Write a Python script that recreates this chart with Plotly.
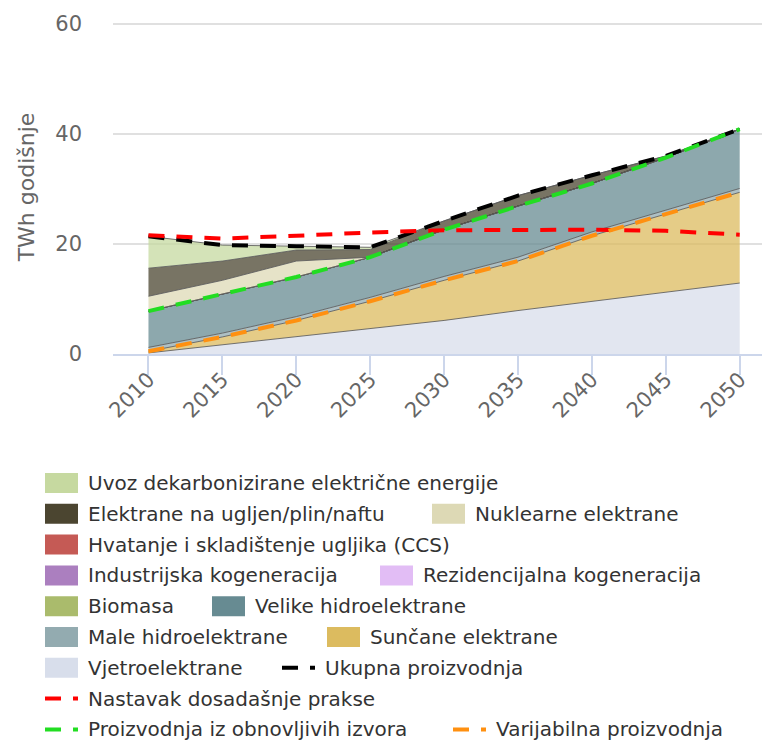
import plotly.graph_objects as go

# ---------------- data ----------------
years = [2010, 2015, 2020, 2025, 2030, 2035, 2040, 2045, 2050]
year_labels = [str(y) for y in years]

# stacked areas (TWh)
uvoz = [5.8, 2.9, 0.7, 0.4, 0.0, 0.0, 0.0, 0.0, 0.0]
elektrane = [5.1, 3.5, 2.0, 1.4, 1.6, 1.9, 1.5, 0.3, 0.0]
nuklearne = [2.7, 2.5, 2.9, 0.0, 0.0, 0.0, 0.0, 0.0, 0.0]
ccs = [0, 0, 0, 0, 0, 0, 0, 0, 0]
industrijska = [0, 0, 0, 0, 0, 0, 0, 0, 0]
rezidencijalna = [0, 0, 0, 0, 0, 0, 0, 0, 0]
biomasa = [0, 0, 0, 0, 0, 0, 0, 0, 0]
velike_hidro = [6.6, 7.1, 7.2, 7.3, 8.5, 9.3, 8.8, 9.5, 10.8]
male_hidro = [0.7, 0.7, 0.7, 0.7, 0.7, 0.7, 0.7, 0.7, 0.7]
suncane = [0.3, 1.4, 2.9, 5.0, 7.3, 9.0, 11.9, 14.2, 16.5]
vjetro = [0.2, 1.7, 3.2, 4.6, 6.1, 7.9, 9.6, 11.3, 12.9]

# lines (TWh)
ukupna = [21.4, 19.8, 19.6, 19.4, 24.2, 28.8, 32.5, 36.0, 40.9]
nastavak = [21.6, 21.0, 21.5, 22.1, 22.5, 22.6, 22.6, 22.4, 21.7]
obnovljivi = [7.8, 10.9, 14.0, 17.6, 22.6, 26.9, 31.0, 35.7, 40.9]
varijabilna = [0.5, 3.1, 6.1, 9.6, 13.4, 16.9, 21.5, 25.5, 29.4]

y_ticks = [0, 20, 40, 60]

# ---------------- styling ----------------
OFF = 8  # default page margin of the html body
W, H = 770 - OFF, 742 - OFF
L, R, T, B = 113 - OFF, 0, 12, 388
PW, PH = W - L - R, H - T - B
FONT = "DejaVu Sans"


def px2x(px):  # page pixel -> paper
    return (px - OFF - L) / PW


def px2y(py):
    return (H - B - (py - OFF)) / PH


def rgba(hexc, a):
    hexc = hexc.lstrip('#')
    r, g, b = int(hexc[0:2], 16), int(hexc[2:4], 16), int(hexc[4:6], 16)
    return f"rgba({r},{g},{b},{a})"


area_series = [  # bottom -> top
    ("Vjetroelektrane", vjetro, "#d8deeb"),
    ("Sunčane elektrane", suncane, "#dcbb5f"),
    ("Male hidroelektrane", male_hidro, "#93abb0"),
    ("Velike hidroelektrane", velike_hidro, "#678b92"),
    ("Biomasa", biomasa, "#aabb6c"),
    ("Rezidencijalna kogeneracija", rezidencijalna, "#e2bdf5"),
    ("Industrijska kogeneracija", industrijska, "#ab7fbf"),
    ("Hvatanje i skladištenje ugljika (CCS)", ccs, "#c55a55"),
    ("Nuklearne elektrane", nuklearne, "#ddd9b5"),
    ("Elektrane na ugljen/plin/naftu", elektrane, "#4b4530"),
    ("Uvoz dekarbonizirane električne energije", uvoz, "#c6d9a0"),
]
line_series = [
    ("Ukupna proizvodnja", ukupna, "#000000"),
    ("Nastavak dosadašnje prakse", nastavak, "#ff0000"),
    ("Proizvodnja iz obnovljivih izvora", obnovljivi, "#22dd22"),
    ("Varijabilna proizvodnja", varijabilna, "#ff9010"),
]
DASH = "16px,12px"

fig = go.Figure()
for name, vals, col in area_series:
    fig.add_trace(go.Scatter(
        x=years, y=vals, name=name, mode="lines", stackgroup="one",
        line=dict(color="rgba(90,90,90,0.85)", width=1),
        fillcolor=rgba(col, 0.75), showlegend=False,
    ))
for name, vals, col in line_series:
    fig.add_trace(go.Scatter(
        x=years, y=vals, name=name, mode="lines",
        line=dict(color=col, width=4, dash=DASH), showlegend=False,
    ))

# ---------------- legend (drawn) ----------------
colors = {n: c for n, _, c in area_series}
colors.update({n: c for n, _, c in line_series})
kinds = {n: "area" for n, _, _ in area_series}
kinds.update({n: "line" for n, _, _ in line_series})

legend_rows = [
    [("Uvoz dekarbonizirane električne energije", 45)],
    [("Elektrane na ugljen/plin/naftu", 45), ("Nuklearne elektrane", 432)],
    [("Hvatanje i skladištenje ugljika (CCS)", 45)],
    [("Industrijska kogeneracija", 45), ("Rezidencijalna kogeneracija", 380)],
    [("Biomasa", 45), ("Velike hidroelektrane", 212)],
    [("Male hidroelektrane", 45), ("Sunčane elektrane", 327)],
    [("Vjetroelektrane", 45), ("Ukupna proizvodnja", 282)],
    [("Nastavak dosadašnje prakse", 45)],
    [("Proizvodnja iz obnovljivih izvora", 45), ("Varijabilna proizvodnja", 453)],
]
row_y0, row_dy = 483, 30.8
shapes, annotations = [], []
for i, row in enumerate(legend_rows):
    cy = row_y0 + i * row_dy
    for name, sx in row:
        col = colors[name]
        if kinds[name] == "area":
            shapes.append(dict(type="rect", xref="paper", yref="paper",
                               x0=px2x(sx), x1=px2x(sx + 33), y0=px2y(cy + 10), y1=px2y(cy - 10),
                               fillcolor=col, line=dict(width=0), layer="above"))
        else:
            shapes.append(dict(type="line", xref="paper", yref="paper",
                               x0=px2x(sx), x1=px2x(sx + 33), y0=px2y(cy), y1=px2y(cy),
                               line=dict(color=col, width=4, dash=DASH), layer="above"))
        annotations.append(dict(text=name, xref="paper", yref="paper",
                                x=px2x(sx + 41), y=px2y(cy), xanchor="left", yanchor="middle",
                                showarrow=False, font=dict(family=FONT, size=20, color="#333333")))

fig.update_layout(
    width=W, height=H,
    margin=dict(l=L, r=R, t=T, b=B, pad=0),
    paper_bgcolor="white", plot_bgcolor="white",
    showlegend=False,
    font=dict(family=FONT, color="#666666"),
    shapes=shapes, annotations=annotations,
    xaxis=dict(
        range=[2007.6, 2052.05], tickvals=years, ticktext=year_labels,
        tickangle=-45, tickfont=dict(size=21, color="#666666"),
        showgrid=False, zeroline=False,
        showline=True, linecolor="#ccd6eb", linewidth=2,
        ticks="outside", ticklen=19, tickwidth=2, tickcolor="#ccd6eb",
        ticklabelstandoff=-16,
    ),
    yaxis=dict(
        range=[0, PH / 5.5], tickvals=y_ticks, tickfont=dict(size=21, color="#666666"),
        showgrid=True, gridcolor="#e0e0e0", gridwidth=1.5, zeroline=False,
        showline=False, ticks="", ticklabelstandoff=30,
        title=dict(text="TWh godišnje", font=dict(size=22, color="#666666"), standoff=14),
    ),
)

fig.write_html("out.html")
